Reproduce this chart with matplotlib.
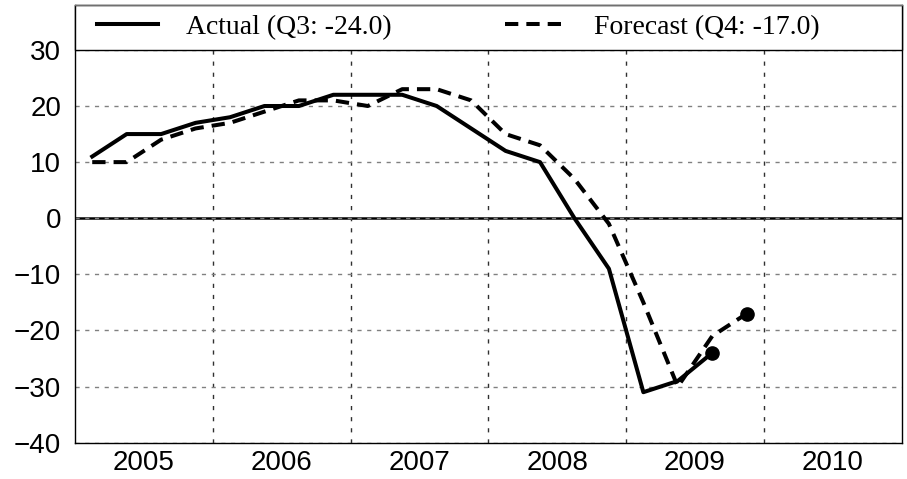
import matplotlib
matplotlib.use("Agg")
import matplotlib.pyplot as plt
import matplotlib.transforms as mtransforms
from matplotlib.patches import Rectangle
import numpy as np

# ---- data ----
years = [2005, 2006, 2007, 2008, 2009, 2010]
year_labels = ["2005", "2006", "2007", "2008", "2009", "2010"]
y_ticks = [-40, -30, -20, -10, 0, 10, 20, 30]

# quarterly values, starting Q1 2005
actual = [11, 15, 15, 17,
          18, 20, 20, 22,
          22, 22, 20, 16,
          12, 10, 0, -9,
          -31, -29, -24]
forecast = [10, 10, 14, 16,
            17, 19, 21, 21,
            20, 23, 23, 21,
            15, 13, 7, -1,
            -15, -30, -21, -17]
actual_label = "Actual (Q3: -24.0)"
forecast_label = "Forecast (Q4: -17.0)"

start_year = years[0]
def qpos(n):
    # mid-quarter positions, in years
    return start_year + (np.arange(n) + 0.5) / 4.0

x_act = qpos(len(actual))
x_fc = qpos(len(forecast))

fig = plt.figure(figsize=(9.07, 4.79), dpi=100)
ax = fig.add_axes([75 / 907, 1 - 442.7 / 479, (901.7 - 75) / 907, (442.7 - 5) / 479])

ax.set_xlim(years[0], years[-1] + 1)
ax.set_ylim(-40, 38)

# grid
ax.set_yticks(y_ticks)
ax.set_xticks(years[1:])
ax.set_xticks([y + 0.5 for y in years], minor=True)
ax.set_xticklabels([], minor=False)
ax.set_xticklabels(year_labels, minor=True)
ax.grid(axis="y", which="major", color="#808080", linestyle=(0, (3, 4)), linewidth=1.0, zorder=0)
ax.grid(axis="x", which="major", color="#303030", linestyle=(0, (3, 5)), linewidth=1.0, zorder=0)
ax.axhline(0, color="black", linewidth=1.8, zorder=1)

tick_family = ["Liberation Sans", "DejaVu Sans"]
ax.tick_params(axis="both", which="both", length=0)
ax.tick_params(axis="y", pad=10)
ax.tick_params(axis="x", which="minor", pad=5)
for lab in ax.get_yticklabels() + ax.get_xticklabels(minor=True):
    lab.set_fontfamily(tick_family)
    lab.set_fontsize(20)

# lines
l1, = ax.plot(x_act, actual, color="black", linewidth=2.9, zorder=3, label=actual_label)
l2, = ax.plot(x_fc, forecast, color="black", linewidth=2.9, linestyle=(0, (3.3, 2.0)), zorder=3,
              label=forecast_label)
ax.plot(x_act[-1:], actual[-1:], "o", color="black", markersize=9.5, zorder=4)
ax.plot(x_fc[-1:], forecast[-1:], "o", color="black", markersize=9.5, zorder=4)

# legend band on top of plot
trans = mtransforms.blended_transform_factory(ax.transAxes, ax.transData)
band = Rectangle((0, y_ticks[-1]), 1, ax.get_ylim()[1] - y_ticks[-1], transform=trans,
                 facecolor="white", edgecolor="black", linewidth=1.0, zorder=5, clip_on=False)
ax.add_patch(band)

leg = ax.legend(handles=[l1, l2], loc="center left",
                bbox_to_anchor=((97 - 75) / 826.7, (442.7 - 27) / 437.7),
                ncol=2, frameon=False, borderpad=0, borderaxespad=0,
                handlelength=2.2, handletextpad=1.0, columnspacing=4.1,
                prop=dict(family=["Liberation Serif", "DejaVu Serif"], size=20))
leg.set_zorder(6)

for side in ["left", "right", "bottom"]:
    ax.spines[side].set_color("black")
    ax.spines[side].set_linewidth(1.0)
ax.spines["top"].set_color("#707070")
ax.spines["top"].set_linewidth(1.0)
ax.spines["top"].set_zorder(7)

fig.savefig("out.png", dpi=100)
